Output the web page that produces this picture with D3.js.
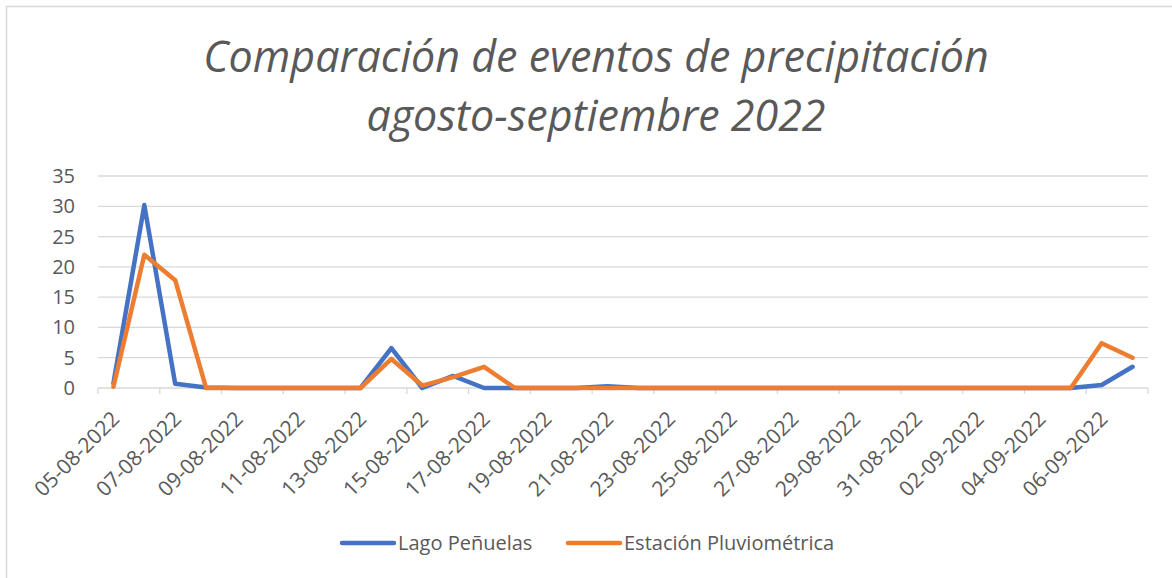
<!DOCTYPE html>
<html>
<head>
<meta charset="utf-8">
<script src="https://cdn.jsdelivr.net/npm/d3@7"></script>
<style>
  body { margin: 0; background: #fff; }
  text { font-family: "Open Sans", sans-serif; fill: #595959; }
</style>
</head>
<body>
<script>
// Categories (one per day) and the two rainfall series
const dates = [
  "05-08-2022", "06-08-2022", "07-08-2022", "08-08-2022", "09-08-2022", "10-08-2022",
  "11-08-2022", "12-08-2022", "13-08-2022", "14-08-2022", "15-08-2022", "16-08-2022",
  "17-08-2022", "18-08-2022", "19-08-2022", "20-08-2022", "21-08-2022", "22-08-2022",
  "23-08-2022", "24-08-2022", "25-08-2022", "26-08-2022", "27-08-2022", "28-08-2022",
  "29-08-2022", "30-08-2022", "31-08-2022", "01-09-2022", "02-09-2022", "03-09-2022",
  "04-09-2022", "05-09-2022", "06-09-2022", "07-09-2022"
];
const lagoPenuelas = [
  0.8, 30.2, 0.7, 0.1, 0, 0, 0, 0, 0, 6.6, 0, 2.0, 0, 0, 0, 0, 0.3, 0,
  0, 0, 0, 0, 0, 0, 0, 0, 0, 0, 0, 0, 0, 0, 0.5, 3.5
];
const estacion = [
  0.2, 22.0, 17.8, 0, 0, 0, 0, 0, 0, 4.8, 0.4, 1.8, 3.5, 0, 0, 0, 0, 0,
  0, 0, 0, 0, 0, 0, 0, 0, 0, 0, 0, 0, 0, 0, 7.4, 5.0
];
const yTicks = [0, 5, 10, 15, 20, 25, 30, 35];
const seriesNames = ["Lago Peñuelas", "Estación Pluviométrica"];
const colors = ["#4472C4", "#ED7D31"];

const width = 1172, height = 578;
const margin = { top: 176, bottom: 190, left: 98, right: 24 };

const svg = d3.select("body").append("svg")
  .attr("width", width)
  .attr("height", height);

// chart border
svg.append("rect")
  .attr("x", 6.5).attr("y", 6.5)
  .attr("width", width + 20).attr("height", height + 20)
  .attr("fill", "none")
  .attr("stroke", "#d9d9d9")
  .attr("stroke-width", 1.5);

// Title
const title = svg.append("text")
  .attr("text-anchor", "middle")
  .style("font-style", "italic")
  .style("font-weight", 400)
  .style("font-size", "43px");
title.append("tspan").attr("x", 596).attr("y", 72).text("Comparación de eventos de precipitación");
title.append("tspan").attr("x", 596).attr("y", 131).text("agosto-septiembre 2022");

// Scales
let xScale = d3.scaleBand()
  .domain(dates)
  .range([margin.left, width - margin.right]);

let yScale = d3.scaleLinear()
  .domain([0, 35])
  .range([height - margin.bottom, margin.top]);

// Grid lines
svg.append("g")
  .selectAll("line")
  .data(yTicks)
  .enter().append("line")
  .attr("x1", margin.left)
  .attr("x2", width - margin.right)
  .attr("y1", d => yScale(d))
  .attr("y2", d => yScale(d))
  .attr("stroke", "#d9d9d9")
  .attr("stroke-width", 1.3);

// Y axis labels
svg.append("g")
  .selectAll("text")
  .data(yTicks)
  .enter().append("text")
  .attr("x", 75)
  .attr("y", d => yScale(d))
  .attr("dy", "0.35em")
  .attr("text-anchor", "end")
  .style("font-size", "20px")
  .text(d => d);

// X axis: tick marks at every second category boundary
const boundaries = d3.range(0, dates.length + 1, 2).map(i =>
  i < dates.length ? xScale(dates[i]) : xScale.range()[1]);
const xAxis = svg.append("g");
xAxis.selectAll("line")
  .data(boundaries)
  .enter().append("line")
  .attr("x1", d => d).attr("x2", d => d)
  .attr("y1", yScale(0)).attr("y2", yScale(0) + 6)
  .attr("stroke", "#d9d9d9")
  .attr("stroke-width", 1.3);

const labelDates = dates.filter((d, i) => i % 2 === 0);
xAxis.selectAll("text")
  .data(labelDates)
  .enter().append("text")
  .attr("transform", d => `translate(${xScale(d) + xScale.bandwidth() / 2 + 2},${yScale(0) + 27}) rotate(-45)`)
  .attr("text-anchor", "end")
  .attr("dy", "0.35em")
  .style("font-size", "21px")
  .text(d => d);

// Lines
const line = d3.line()
  .x((d, i) => xScale(dates[i]) + xScale.bandwidth() / 2)
  .y(d => yScale(d));

[lagoPenuelas, estacion].forEach((series, k) => {
  svg.append("path")
    .datum(series)
    .attr("d", line)
    .attr("fill", "none")
    .attr("stroke", colors[k])
    .attr("stroke-width", 4.5)
    .attr("stroke-linejoin", "round")
    .attr("stroke-linecap", "round");
});

// Legend
const legendX = [342, 568];
const legend = svg.append("g");
seriesNames.forEach((name, k) => {
  legend.append("line")
    .attr("x1", legendX[k]).attr("x2", legendX[k] + 52)
    .attr("y1", 543).attr("y2", 543)
    .attr("stroke", colors[k])
    .attr("stroke-width", 4.5)
    .attr("stroke-linecap", "round");
  legend.append("text")
    .attr("x", legendX[k] + 56)
    .attr("y", 543)
    .attr("dy", "0.35em")
    .style("font-size", "20px")
    .text(name);
});
</script>
</body>
</html>
